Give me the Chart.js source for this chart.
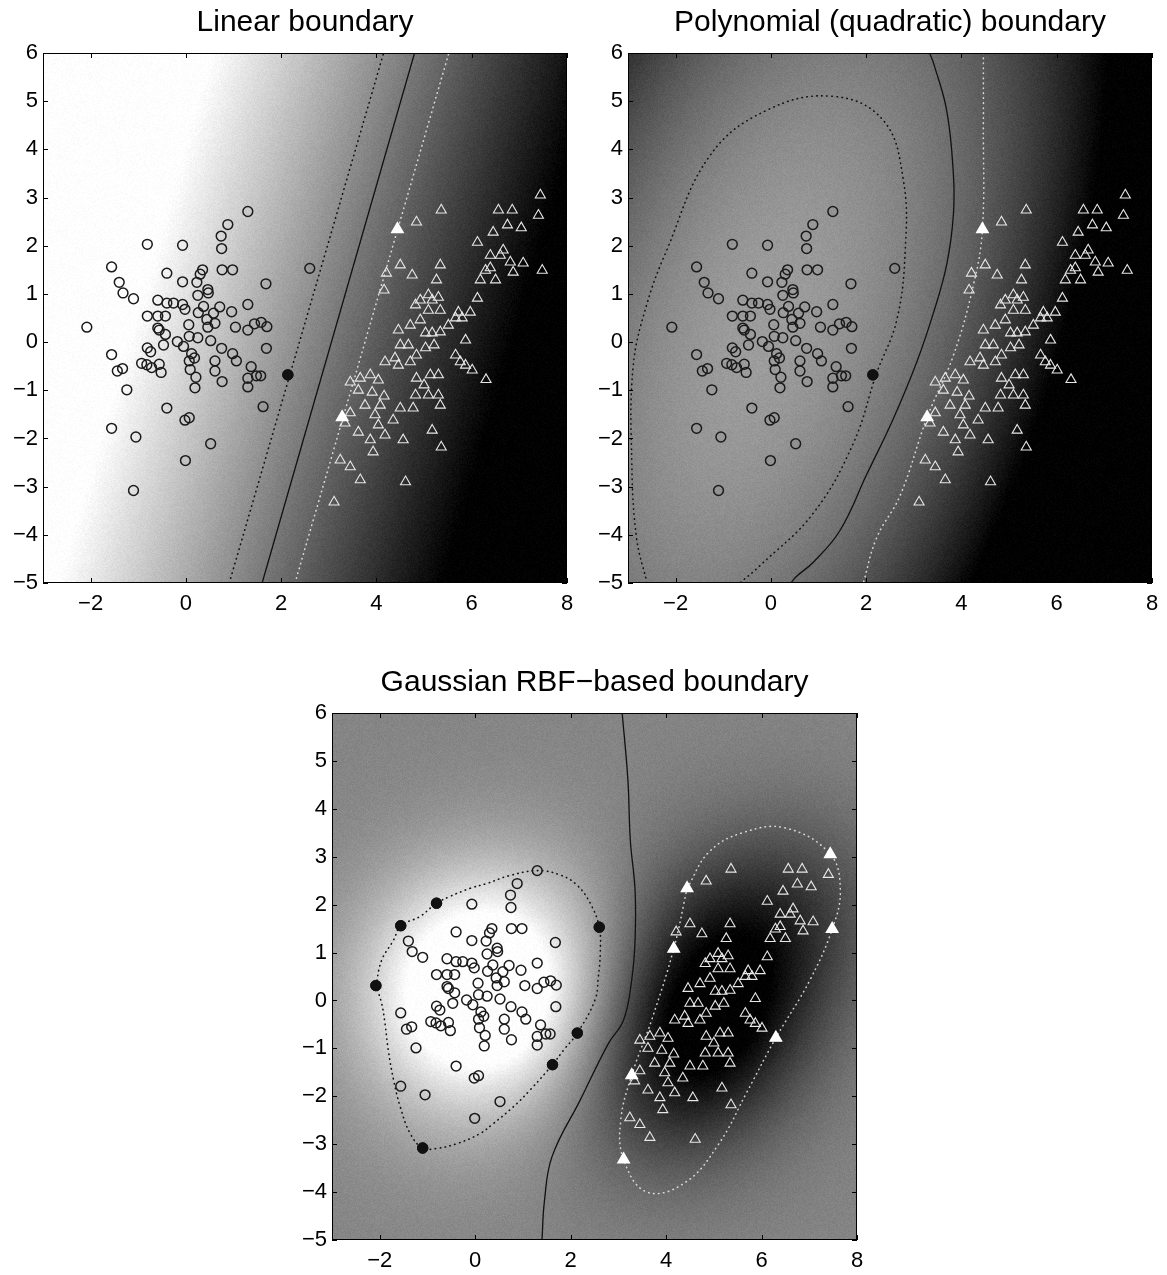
<!DOCTYPE html>
<html>
<head>
<meta charset="utf-8">
<script src="https://cdn.jsdelivr.net/npm/chart.js@4.4.1/dist/chart.umd.min.js"></script>
<style>
body { margin: 0; background: #fff; width: 1167px; height: 1275px; overflow: hidden; position: relative; }
canvas { position: absolute; }
</style>
</head>
<body>
<canvas id="chart1" width="610" height="625" style="left:0;top:0"></canvas>
<canvas id="chart2" width="610" height="625" style="left:585px;top:0"></canvas>
<canvas id="chart3" width="611" height="622" style="left:289px;top:660px"></canvas>
<script>
// ---- data ----
const xTicks = [-2, 0, 2, 4, 6, 8];
const yTicks = [6, 5, 4, 3, 2, 1, 0, -1, -2, -3, -4, -5];

const circlePoints = [
  [-2.08,0.31],[-1.56,1.56],[-1.4,1.24],[-1.32,1.02],[-1.1,0.9],[-0.81,2.03],[-1.56,-0.26],[-1.44,-0.6],
  [-1.33,-0.55],[-1.24,-0.99],[-1.56,-1.79],[-1.05,-1.97],[-1.1,-3.08],[-0.4,1.43],[-0.59,0.87],[-0.4,0.81],
  [-0.26,0.81],[-0.81,0.54],[-0.59,0.54],[-0.43,0.54],[-0.59,0.29],[-0.56,0.25],[-0.43,0.16],[-0.47,-0.06],
  [-0.81,-0.12],[-0.74,-0.2],[-0.93,-0.44],[-0.82,-0.47],[-0.72,-0.53],[-0.56,-0.46],[-0.52,-0.63],[-0.4,-1.37],
  [-0.07,2.01],[-0.07,1.25],[-0.07,0.78],[-0.02,0.68],[-0.18,0.01],[-0.05,-0.09],[0.07,0.12],[0.06,0.36],
  [0.07,-0.39],[0.09,-0.57],[0.12,-0.24],[0.18,-0.33],[0.25,0.09],[0.23,1.24],[0.25,0.97],[0.3,1.41],
  [0.35,1.5],[0.46,1.09],[0.47,1.02],[0.37,0.74],[0.26,0.61],[0.44,0.47],[0.46,0.31],[0.61,0.39],
  [0.58,0.6],[0.52,0.03],[0.21,-0.73],[0.19,-0.95],[-0.02,-1.62],[0.07,-1.57],[-0.01,-2.46],[0.52,-2.11],
  [0.61,-0.39],[0.61,-0.6],[0.75,-0.13],[0.76,-0.82],[0.74,2.2],[0.75,1.94],[0.76,1.5],[0.98,1.5],
  [0.71,0.73],[0.96,0.63],[0.88,2.44],[0.98,-0.24],[1.06,-0.39],[1.04,0.31],[1.3,2.71],[1.3,0.78],
  [1.3,0.25],[1.44,0.38],[1.37,-0.51],[1.3,-0.75],[1.3,-0.93],[1.48,-0.7],[1.57,-0.7],[1.58,0.41],
  [1.7,0.32],[1.69,-0.13],[1.68,1.21],[1.62,-1.34],[2.6,1.53],[2.14,-0.68]
];

const trianglePoints = [
  [5.36,2.74],[4.84,2.49],[4.44,2.34],[6.56,2.74],[6.12,2.07],[6.45,2.28],[6.85,2.74],[6.75,2.43],
  [7.04,2.37],[7.44,3.05],[7.4,2.63],[7.48,1.49],[7.08,1.64],[6.81,1.66],[6.87,1.45],[6.66,1.91],
  [6.6,1.8],[6.39,1.8],[6.39,1.54],[6.29,1.49],[6.5,1.29],[6.18,1.29],[6.12,0.91],[5.97,0.62],
  [5.72,0.62],[5.66,0.5],[5.8,0.5],[5.34,1.6],[5.26,1.29],[5.09,0.98],[5.17,0.87],[4.92,0.87],
  [4.82,0.77],[5.3,0.93],[5.34,0.66],[5.09,0.66],[4.92,0.46],[4.71,0.35],[4.46,0.25],[4.5,-0.06],
  [4.84,-0.27],[5.03,0.19],[5.17,0.19],[5.34,0.21],[5.21,-0.06],[5.03,-0.12],[4.67,-0.06],[4.21,1.43],
  [4.16,1.08],[4.5,1.6],[4.75,1.39],[4.39,-0.33],[4.18,-0.41],[4.46,-0.48],[4.71,-0.41],[4.84,-0.75],
  [5.13,-0.68],[5.3,-0.68],[5.0,-0.89],[4.82,-1.1],[5.09,-1.1],[5.3,-1.1],[5.34,-1.31],[5.76,-0.41],
  [5.87,-0.48],[6.01,-0.58],[6.3,-0.78],[5.66,-0.27],[5.87,0.04],[5.51,0.35],[3.66,-0.75],[3.45,-0.83],
  [3.87,-0.68],[3.62,-1.0],[3.91,-1.04],[4.04,-0.79],[4.16,-1.12],[3.76,-1.31],[4.08,-1.31],[3.45,-1.47],
  [3.97,-1.51],[4.04,-1.72],[4.35,-1.62],[4.5,-1.37],[4.77,-1.37],[4.18,-1.93],[3.87,-2.03],[3.62,-1.87],
  [3.34,-1.68],[3.28,-1.56],[4.56,-2.03],[5.17,-1.83],[5.36,-2.18],[3.93,-2.28],[3.24,-2.45],[3.45,-2.59],
  [3.66,-2.86],[3.11,-3.32],[4.61,-2.9]
];

// linear boundary
const linBoundary = [[1.6,-5],[4.8,6]];
const linMarginCircle = [[0.91,-5],[4.15,6]];
const linMarginTriangle = [[2.29,-5],[5.52,6]];
const linSvCircles = [[2.14,-0.68]];
const linSvTriangles = [[4.44,2.34],[3.28,-1.56]];

// polynomial (quadratic) boundary
const polyBoundary = [[3.33,6],[3.41,5.8],[3.69,4.81],[3.83,3.5],[3.83,2.63],[3.69,1.61],[3.41,0.6],
  [3.06,-0.42],[2.57,-1.59],[2.01,-2.75],[1.45,-3.91],[0.89,-4.57],[0.54,-4.86],[0.42,-5]];
const polyMarginCircle = [[-2.6,-5],[-2.82,-4.07],[-2.92,-2.5],[-2.89,-0.49],[-2.6,0.8],[-2.19,1.9],
  [-1.28,3.87],[-0.09,4.81],[1.31,5.1],[2.36,4.6],[2.78,3.36],[2.82,1.9],[2.64,0.45],[2.22,-0.64],
  [1.73,-2.1],[0.89,-3.55],[-0.23,-4.64],[-0.65,-5]];
const polyMarginTriangle = [[4.46,6],[4.46,4.5],[4.44,2.34],[4.25,1.18],[3.83,-0.28],[3.28,-1.56],
  [2.71,-3.19],[2.22,-4.06],[1.94,-5]];
const polySvCircles = [[2.14,-0.68]];
const polySvTriangles = [[4.44,2.34],[3.28,-1.56]];

// gaussian RBF boundary
const rbfBoundary = [[3.08,6],[3.2,4.6],[3.25,3.35],[3.35,2.3],[3.35,1.26],[3.28,0.43],[3.11,-0.41],
  [2.79,-0.9],[2.2,-2.08],[1.61,-3.26],[1.45,-4.2],[1.4,-5]];
const rbfMarginCircle = [[-2.08,0.31],[-1.96,0.84],[-1.71,1.26],[-1.56,1.56],[-1.16,1.75],[-0.81,2.03],
  [-0.53,2.17],[-0.11,2.34],[0.24,2.44],[0.7,2.6],[1.3,2.71],[1.78,2.62],[2.13,2.41],[2.41,2.03],
  [2.6,1.53],[2.62,0.98],[2.58,0.49],[2.51,0.01],[2.14,-0.68],[1.85,-1.04],[1.62,-1.34],[1.15,-1.87],
  [0.8,-2.22],[0.38,-2.57],[0.1,-2.78],[-0.39,-2.99],[-0.81,-3.09],[-1.1,-3.08],[-1.36,-2.78],
  [-1.57,-2.22],[-1.71,-1.66],[-1.82,-1.04],[-1.89,-0.48],[-1.96,-0.06],[-2.08,0.31]];
const rbfMarginTriangle = [[4.44,2.34],[4.9,3.1],[5.6,3.5],[6.5,3.6],[7.44,3.05],[7.65,2.3],[7.48,1.49],
  [7.0,0.4],[6.3,-0.78],[5.7,-1.9],[5.1,-3.0],[4.4,-3.8],[3.6,-4.0],[3.11,-3.32],[3.05,-2.5],
  [3.28,-1.56],[3.7,-0.4],[4.16,1.08],[4.44,2.34]];
const rbfSvCircles = [[-2.08,0.31],[-1.56,1.56],[-0.81,2.03],[2.6,1.53],[2.14,-0.68],[1.62,-1.34],[-1.1,-3.08]];
const rbfSvTriangles = [[4.44,2.34],[4.16,1.08],[3.28,-1.56],[3.11,-3.32],[6.3,-0.78],[7.44,3.05],[7.48,1.49]];

// ---- helpers ----
const pts = a => a.map(([x, y]) => ({x, y}));
const minus = v => v < 0 ? '\u2212' + Math.abs(v) : String(v);
const clamp = v => Math.max(0, Math.min(1, v));
const FONT = "'Liberation Sans', Arial, sans-serif";

// least squares fit of a decision value to the drawn contour lines
function fitModel(feat, groups) {
  const rows = [], ys = [];
  groups.forEach(([arr, t]) => arr.forEach(([x, y]) => { rows.push(feat(x, y)); ys.push(t); }));
  const n = rows[0].length;
  const M = Array.from({length: n}, () => new Array(n + 1).fill(0));
  rows.forEach((r, k) => {
    for (let i = 0; i < n; i++) {
      for (let j = 0; j < n; j++) M[i][j] += r[i] * r[j];
      M[i][n] += r[i] * ys[k];
    }
  });
  for (let i = 0; i < n; i++) M[i][i] += 1e-6;
  for (let i = 0; i < n; i++) {
    let p = i;
    for (let k = i + 1; k < n; k++) if (Math.abs(M[k][i]) > Math.abs(M[p][i])) p = k;
    [M[i], M[p]] = [M[p], M[i]];
    for (let k = 0; k < n; k++) {
      if (k === i) continue;
      const f = M[k][i] / M[i][i];
      for (let j = i; j <= n; j++) M[k][j] -= f * M[i][j];
    }
  }
  const w = M.map((r, i) => r[n] / r[i]);
  return (x, y) => feat(x, y).reduce((s, v, i) => s + v * w[i], 0);
}

const linF = fitModel((x, y) => [x, y, 1],
  [[linBoundary, 0], [linMarginCircle, -1], [linMarginTriangle, 1]]);
const polyF = fitModel((x, y) => [x * x / 10, x * y / 10, y * y / 10, x, y, 1],
  [[polyBoundary, 0], [polyMarginCircle, -1], [polyMarginTriangle, 1]]);
const rbfF = (x, y) => {
  let s = 0;
  trianglePoints.forEach(([a, b]) => { s += Math.exp(-((x - a) ** 2 + (y - b) ** 2) / 3.92); });
  circlePoints.forEach(([a, b]) => { s -= Math.exp(-((x - a) ** 2 + (y - b) ** 2) / 3.92); });
  return s / 25;
};

function shadePlugin(f, gray) {
  let cache = null;
  return {
    id: 'shade',
    beforeDatasetsDraw(chart) {
      const {ctx, chartArea: a, scales: {x, y}} = chart;
      const L = Math.round(a.left), T = Math.round(a.top);
      const W = Math.round(a.right) - L, H = Math.round(a.bottom) - T;
      if (!cache) {
        cache = ctx.createImageData(W, H);
        const d = cache.data;
        for (let j = 0; j < H; j++) {
          const vy = y.getValueForPixel(T + j + 0.5);
          for (let i = 0; i < W; i++) {
            const vx = x.getValueForPixel(L + i + 0.5);
            const grain = (((i * 7919 + j * 104729) ^ (i * j * 31)) % 13) - 6;
            const g = Math.max(0, Math.min(255, clamp(gray(f(vx, vy))) * 255 + grain));
            const k = (j * W + i) * 4;
            d[k] = d[k + 1] = d[k + 2] = g; d[k + 3] = 255;
          }
        }
      }
      ctx.putImageData(cache, L, T);
    }
  };
}

const frame = {
  id: 'frame',
  afterDatasetsDraw(chart) {
    const {ctx, chartArea: a, scales: {x, y}} = chart;
    ctx.save();
    ctx.strokeStyle = '#000';
    ctx.lineWidth = 1;
    ctx.beginPath();
    xTicks.forEach(v => {
      const px = Math.round(x.getPixelForValue(v)) + 0.5;
      ctx.moveTo(px, a.bottom); ctx.lineTo(px, a.bottom - 5);
      ctx.moveTo(px, a.top); ctx.lineTo(px, a.top + 5);
    });
    yTicks.forEach(v => {
      const py = Math.round(y.getPixelForValue(v)) + 0.5;
      ctx.moveTo(a.left, py); ctx.lineTo(a.left + 5, py);
      ctx.moveTo(a.right, py); ctx.lineTo(a.right - 5, py);
    });
    ctx.stroke();
    ctx.strokeRect(Math.round(a.left) + 0.5, Math.round(a.top) + 0.5,
      Math.round(a.right - a.left) - 1, Math.round(a.bottom - a.top) - 1);
    ctx.restore();
  }
};

// title centred over the plot box
function titlePlugin(text) {
  return {
    id: 'boxTitle',
    afterDraw(chart) {
      const {ctx, chartArea: a} = chart;
      ctx.save();
      ctx.font = '30px ' + FONT;
      ctx.fillStyle = '#000';
      ctx.textAlign = 'center';
      ctx.textBaseline = 'middle';
      ctx.fillText(text, (a.left + a.right) / 2, 23);
      ctx.restore();
    }
  };
}

const tickFont = {family: FONT, size: 22};

function lineSet(data, color, dash, tension) {
  return {
    data: pts(data), showLine: true, pointRadius: 0, borderColor: color, borderWidth: dash ? 1.6 : 1.3,
    borderDash: dash ? [0.5, 4.5] : [], borderCapStyle: 'round', tension: tension, order: 3
  };
}

function makeChart(id, title, bound, marginC, marginT, svC, svT, f, gray, tension) {
  return new Chart(document.getElementById(id), {
    type: 'scatter',
    data: {
      datasets: [
        {data: pts(svT), pointStyle: 'triangle', pointRadius: 8, pointBorderWidth: 0,
          pointBackgroundColor: '#fff', pointBorderColor: '#fff', order: 0},
        {data: pts(svC), pointStyle: 'circle', pointRadius: 5.2, pointBorderWidth: 1,
          pointBackgroundColor: '#111', pointBorderColor: '#111', order: 0},
        {data: pts(trianglePoints), pointStyle: 'triangle', pointRadius: 5.8, pointBorderWidth: 1.1,
          pointBackgroundColor: 'rgba(0,0,0,0)', pointBorderColor: '#e8e8e8', order: 1},
        {data: pts(circlePoints), pointStyle: 'circle', pointRadius: 4.9, pointBorderWidth: 1.5,
          pointBackgroundColor: 'rgba(0,0,0,0)', pointBorderColor: '#1a1a1a', order: 1},
        lineSet(bound, '#111', false, tension),
        lineSet(marginC, '#111', true, tension),
        lineSet(marginT, 'rgba(235,235,235,0.85)', true, tension)
      ]
    },
    options: {
      responsive: false,
      animation: false,
      events: [],
      layout: {padding: {top: 53, right: 43}},
      plugins: {
        legend: {display: false},
        tooltip: {enabled: false},
        title: {display: false}
      },
      scales: {
        x: {
          type: 'linear', min: -3, max: 8,
          afterBuildTicks: s => { s.ticks = xTicks.map(v => ({value: v})); },
          afterFit: s => { s.height = 42; },
          grid: {display: false, drawTicks: false},
          border: {display: false},
          ticks: {padding: 8, color: '#000', font: tickFont, maxRotation: 0, callback: minus}
        },
        y: {
          type: 'linear', min: -5, max: 6,
          afterBuildTicks: s => { s.ticks = yTicks.map(v => ({value: v})); },
          afterFit: s => { s.width = 43; },
          grid: {display: false, drawTicks: false},
          border: {display: false},
          ticks: {padding: 5, color: '#000', font: tickFont, callback: minus}
        }
      }
    },
    plugins: [shadePlugin(f, gray), frame, titlePlugin(title)]
  });
}

makeChart('chart1', 'Linear boundary', linBoundary, linMarginCircle, linMarginTriangle,
  linSvCircles, linSvTriangles, linF, v => 0.47 - 0.085 * v, 0);
makeChart('chart2', 'Polynomial (quadratic) boundary', polyBoundary, polyMarginCircle, polyMarginTriangle,
  polySvCircles, polySvTriangles, polyF, v => 0.43 - 0.08 * v, 0.4);
makeChart('chart3', 'Gaussian RBF\u2212based boundary', rbfBoundary, rbfMarginCircle, rbfMarginTriangle,
  rbfSvCircles, rbfSvTriangles, rbfF, v => 0.52 - 0.3 * v, 0.4);
</script>
</body>
</html>
